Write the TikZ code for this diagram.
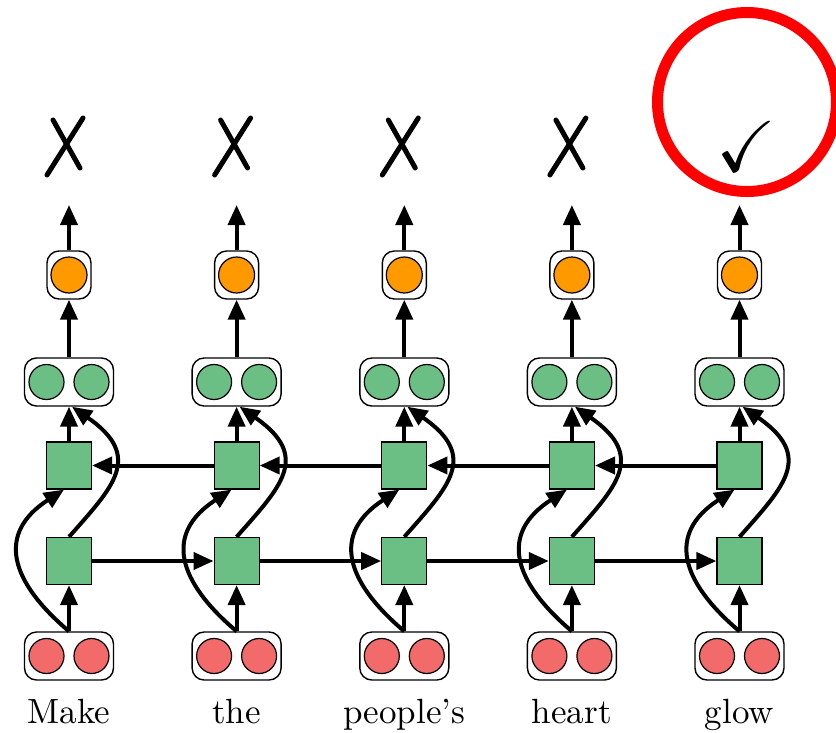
\documentclass[tikz,border=0pt]{standalone}
\usepackage{fontspec}
\usepackage{amssymb}
\usetikzlibrary{arrows.meta}

% word labels in the 10pt design of Latin Modern, scaled up
\newfontfamily\wordfont{lmroman10-regular}[Extension=.otf, Ligatures=TeX]

\definecolor{inred}{RGB}{242,106,106}
\definecolor{hidgreen}{RGB}{107,191,133}
\definecolor{outorange}{RGB}{255,153,0}
\definecolor{ringred}{RGB}{255,0,0}

\tikzset{
  pill/.style={draw=black, line width=1.4pt, rounded corners=12pt, fill=white,
    minimum width=89pt, minimum height=48pt, inner sep=0pt},
  onebox/.style={pill, minimum width=44pt},
  dot/.style={circle, draw=black, line width=1.2pt, minimum size=35pt, inner sep=0pt},
  cell/.style={draw=black, line width=1.2pt, fill=hidgreen,
    minimum width=45pt, minimum height=47pt, inner sep=0pt},
  flow/.style={line width=4pt, -{Triangle[length=20pt,width=17pt]}},
  word/.style={font=\wordfont\fontsize{35}{42}\selectfont, anchor=base, inner sep=0pt},
  cross/.style={line width=5pt, line cap=round},
  ring/.style={draw=ringred, line width=11pt},
}

\begin{document}
\begin{tikzpicture}[x=1pt, y=-1pt]
  \useasboundingbox (0,0) rectangle (836,732);

  % one column per word: input pair, forward cell, backward cell,
  % hidden pair, output unit
  \foreach \i/\x/\w in {1/69/Make, 2/236.6/the, 3/404.3/people's, 4/571.9/heart, 5/739.5/glow} {
    \node[pill] (x\i) at (\x,656) {};
    \node[dot, fill=inred] (xa\i) at (\x-22.5,656) {};
    \node[dot, fill=inred] (xb\i) at (\x+22.5,656) {};

    \node[cell] (f\i) at (\x,561) {};
    \node[cell] (b\i) at (\x,465.5) {};

    \node[pill] (h\i) at (\x,382) {};
    \node[dot, fill=hidgreen] (ha\i) at (\x-22.5,382) {};
    \node[dot, fill=hidgreen] (hb\i) at (\x+22.5,382) {};

    \node[onebox] (o\i) at (\x,275) {};
    \node[dot, fill=outorange, minimum size=36pt] (oc\i) at (\x,275) {};
    \coordinate (p\i) at (\x,205);

    \node[word] (w\i) at (\x,723) {\w};

    \draw[flow] (x\i.north) -- (f\i.south);
    \draw[flow] (b\i.north) -- (h\i.south);
    \draw[flow] (h\i.north) -- (o\i.south);
    \draw[flow] (o\i.north) -- (p\i);

    % input skips to the backward cell
    \draw[flow] (x\i.north) .. controls +(-59,-50) and +(-68,44) .. ([xshift=-5pt]b\i.south);
    % forward cell feeds the hidden pair
    \draw[flow] (f\i.north) .. controls +(44,-50) and +(72,50) .. ([xshift=3pt]h\i.south);
  }

  % recurrent links
  \foreach \i/\j in {1/2, 2/3, 3/4, 4/5} {
    \draw[flow] (f\i.east) -- (f\j.west);
    \draw[flow] (b\j.west) -- (b\i.east);
  }

  % wrong predictions
  \foreach \x in {69, 236.6, 404.3, 571.9} {
    \draw[cross] (\x-16,120) -- (\x+11,168);
    \draw[cross] (\x+14,118) -- (\x-22,175);
  }

  % right prediction
  \node (ok) at (746,147) {\fontsize{72}{72}\selectfont$\checkmark$};
  \draw[ring] (747,102) circle[radius=89.5pt];
\end{tikzpicture}
\end{document}
